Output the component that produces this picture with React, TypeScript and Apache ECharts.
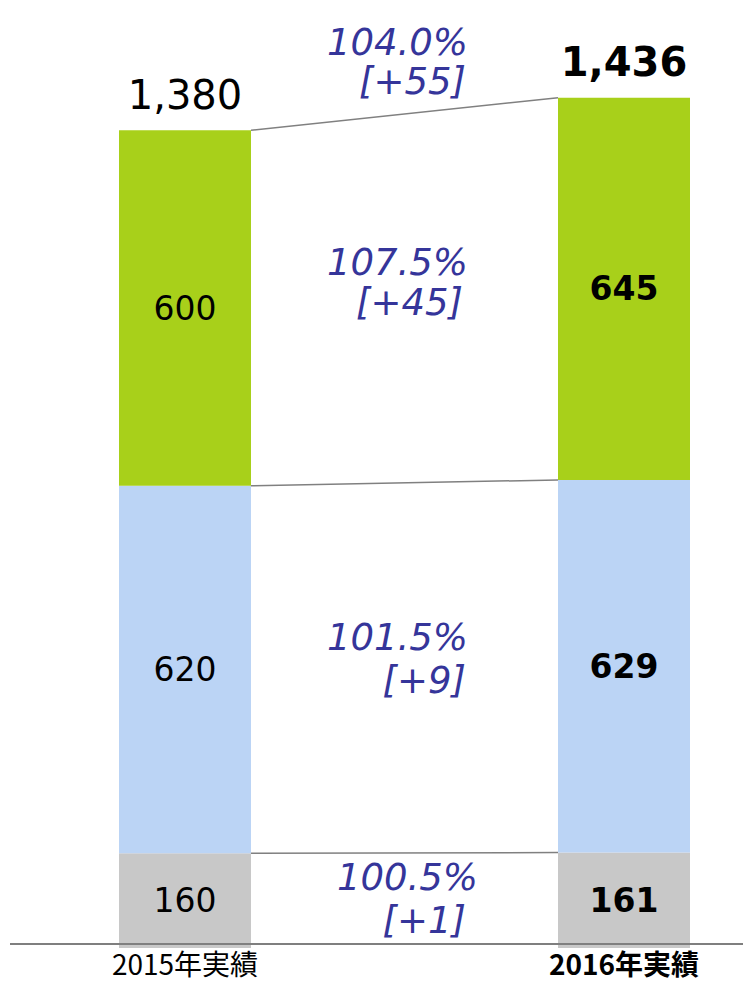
import React, { useEffect, useRef } from "react";
import * as echarts from "echarts";

const categories = ["2015年実績", "2016年実績"];
const otherValues = [160, 161];
const blueValues = [620, 629];
const greenValues = [600, 645];
const totals = [1380, 1436];
const ratioLabels = ["100.5%", "101.5%", "107.5%", "104.0%"];
const diffLabels = ["[+1]", "[+9]", "[+45]", "[+55]"];

const GREEN = "#a8d01a";
const BLUE = "#bbd4f5";
const GRAY = "#c8c8c8";
const NOTE = "#35359a";
const BAR_W = 132;
const FONT = "DejaVu Sans";

// layout of the change annotations (pixel positions): [centerY line1, centerY line2, right x line1, right x line2]
const noteLayout = [
  [877, 920, 478, 466],
  [637, 680, 468, 466],
  [262, 302, 468, 463],
  [42, 81, 468, 466],
];

export default function App() {
  const ref = useRef<HTMLDivElement>(null);
  useEffect(() => {
    document.body.style.margin = "0";
    const chart = echarts.init(ref.current!, null, { renderer: "svg" });
    const cum1 = otherValues.map((v) => v);
    const cum2 = otherValues.map((v, i) => v + blueValues[i]);
    const cum3 = cum2.map((v, i) => v + greenValues[i]);
    const connectData = [
      [0, cum1[0], cum1[1]],
      [0, cum2[0], cum2[1]],
      [0, cum3[0], cum3[1]],
    ];
    const segLabel = (bold: boolean) => ({
      show: true,
      position: "inside",
      fontFamily: FONT,
      fontSize: 33,
      color: "#000",
      fontWeight: bold ? "bold" : "normal",
    });
    const mkData = (arr: number[]) =>
      arr.map((v, i) => ({ value: v, label: segLabel(i === 1) }));

    const graphics: any[] = [
      {
        type: "line",
        shape: { x1: 10, y1: 944, x2: 743, y2: 944 },
        style: { stroke: "#7f7f7f", lineWidth: 2 },
        z: 10,
      },
    ];
    ratioLabels.forEach((r, i) => {
      const [y1, y2, x1, x2] = noteLayout[i];
      [
        [r, x1, y1],
        [diffLabels[i], x2, y2],
      ].forEach(([t, x, y]) => {
        graphics.push({
          type: "text",
          x,
          y,
          style: {
            text: t,
            align: "right",
            verticalAlign: "middle",
            fontFamily: FONT,
            fontStyle: "italic",
            fontSize: 37,
            fill: NOTE,
          },
        });
      });
    });

    chart.setOption({
      animation: false,
      grid: { left: 185, right: 119, top: 0, bottom: 35 },
      xAxis: {
        type: "category",
        data: categories,
        boundaryGap: false,
        axisLine: { show: false },
        axisTick: { show: false },
        axisLabel: {
          margin: 1,
          formatter: (v: string, i: number) => (i === 1 ? `{b|${v}}` : `{a|${v}}`),
          rich: {
            a: { fontFamily: "Noto Sans CJK JP", fontSize: 28, lineHeight: 28, color: "#000" },
            b: { fontFamily: "Noto Sans CJK JP", fontSize: 28, lineHeight: 28, fontWeight: "bold", color: "#000" },
          },
        },
      },
      yAxis: { type: "value", min: 0, max: 1600, show: false },
      series: [
        {
          type: "bar",
          stack: "s",
          barWidth: BAR_W,
          data: mkData(otherValues),
          itemStyle: { color: GRAY },
        },
        {
          type: "bar",
          stack: "s",
          barWidth: BAR_W,
          data: mkData(blueValues),
          itemStyle: { color: BLUE },
        },
        {
          type: "bar",
          stack: "s",
          barWidth: BAR_W,
          data: mkData(greenValues),
          itemStyle: { color: GREEN },
        },
        {
          type: "scatter",
          symbolSize: 0,
          itemStyle: { opacity: 1 },
          data: totals.map((v, i) => ({
            value: [i, v],
            label: {
              show: true,
              position: "top",
              distance: 15,
              formatter: `{t|${v.toLocaleString("en-US")}}`,
              rich: {
                t: {
                  fontFamily: FONT,
                  fontSize: 40,
                  fontWeight: i === 1 ? "bold" : "normal",
                  color: "#000000",
                },
              },
            },
          })),
          z: 5,
        },
        {
          type: "custom",
          encode: { x: 0, y: [1, 2] },
          data: connectData,
          renderItem: (params: any, api: any) => {
            const p1 = api.coord([0, api.value(1)]);
            const p2 = api.coord([1, api.value(2)]);
            return {
              type: "line",
              shape: { x1: p1[0] + BAR_W / 2, y1: p1[1], x2: p2[0] - BAR_W / 2, y2: p2[1] },
              style: { stroke: "#808080", lineWidth: 1.5 },
            };
          },
        },
      ],
      graphic: graphics,
    });
    return () => chart.dispose();
  }, []);
  return <div ref={ref} style={{ width: 743, height: 983 }} />;
}
